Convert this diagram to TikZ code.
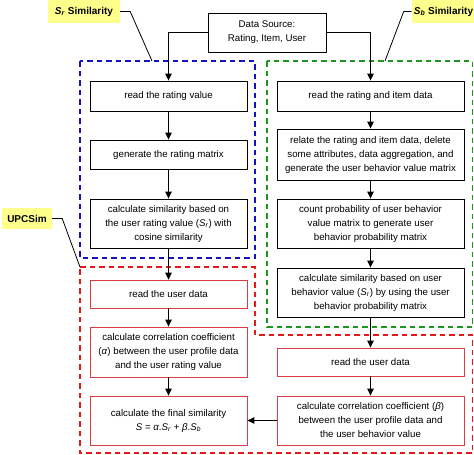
\documentclass[tikz,border=0pt]{standalone}
\usepackage{fontspec}
\setmainfont{Liberation Sans}
\usepackage{tikz}
\usetikzlibrary{positioning}
\usetikzlibrary{arrows.meta}

\definecolor{grpblue}{RGB}{20,20,190}
\definecolor{grpgreen}{RGB}{30,150,30}
\definecolor{grpred}{RGB}{230,25,25}
\definecolor{boxred}{RGB}{220,60,70}
\definecolor{tagyellow}{RGB}{255,255,140}

\newcommand{\Sr}{\textit{S}\textsubscript{\textit{r}}}
\newcommand{\Sb}{\textit{S}\textsubscript{\textit{b}}}

\begin{document}
\begin{tikzpicture}[
    x=1pt,y=-1pt,
    proc/.style={draw,line width=0.9pt,align=center,inner sep=2pt,
      font=\fontsize{9.7}{14}\selectfont},
    lproc/.style={proc,minimum width=157pt},
    rproc/.style={proc,minimum width=187pt},
    uproc/.style={draw=boxred,line width=0.8pt},
    tag/.style={fill=tagyellow,inner sep=2pt,font=\fontsize{10}{12}\selectfont\bfseries},
    arr/.style={-{Triangle[length=7pt,width=6.5pt]},line width=0.9pt},
    grp/.style={dash pattern=on 5.5pt off 4pt,line width=1.8pt},
    callout/.style={line width=0.8pt}
    ]

    \useasboundingbox (0,0) rectangle (474,455);

    % groups
    \draw[grp,grpblue] (80,61) rectangle (255,258);
    \draw[grp,grpgreen] (267,61) rectangle (472.5,327);
    \draw[grp,grpred] (80,267) -- (255,267) -- (255,335) -- (472.5,335)
      -- (472.5,453) -- (80,453) -- cycle;

    \node[proc,minimum width=118pt,minimum height=39pt] (src) at (267,32.5)
      {Data Source:\\Rating, Item, User};

    % S_r column
    \node[lproc,minimum height=30pt] (r1) at (168.5,96) {read the rating value};
    \node[lproc,minimum height=29pt] (r2) at (168.5,154.5) {generate the rating matrix};
    \node[lproc,minimum height=49pt] (r3) at (168.5,223.5)
      {calculate similarity based on\\the user rating value (\Sr) with\\cosine similarity};

    % S_b column
    \node[rproc,minimum height=51pt] (b2) at (370.5,154.5)
      {relate the rating and item data, delete\\some attributes, data aggregation, and\\generate the user behavior value matrix};
    \node[rproc,minimum height=30pt] (b1) at (370.5,96) {read the rating and item data};
    \node[rproc,minimum height=49pt] (b3) at (370.5,223.5)
      {count probability of user behavior\\value matrix to generate user\\behavior probability matrix};
    \node[rproc,minimum height=49pt] (b4) at (370.5,292.5)
      {calculate similarity based on user\\behavior value (\Sr) by using the user\\behavior probability matrix};

    % UPCSim
    \node[lproc,uproc,minimum height=28pt] (u1) at (168.5,294) {read the user data};
    \node[lproc,uproc,minimum height=50pt] (u2) at (168.5,352)
      {calculate correlation coefficient\\(\textit{α}) between the user profile data\\and the user rating value};
    \node[lproc,uproc,minimum height=49pt] (u3) at (168.5,420.5)
      {calculate the final similarity\\\textit{S} = \textit{α}.\Sr{} + \textit{β}.\Sb};
    \node[rproc,uproc,minimum height=28pt] (v1) at (370.5,362) {read the user data};
    \node[rproc,uproc,minimum height=49pt] (v2) at (370.5,420.5)
      {calculate correlation coefficient (\textit{β})\\between the user profile data and\\the user behavior value};

    % tags
    \node[tag,minimum width=72pt,minimum height=23pt] (srtag) at (84,11.5) {\Sr{} Similarity};
    \node[tag,minimum width=61pt,minimum height=23pt] (sbtag) at (443.5,11.5) {\Sb{} Similarity};
    \node[tag,minimum width=50pt,minimum height=21pt] (upctag) at (27,218.5) {UPCSim};

    \coordinate (srend) at (152,61);
    \coordinate (sbend) at (385,61);
    \coordinate (upcend) at (80,267);

    \draw[callout] (srtag.east) -- ++(10,0) -- (srend);
    \draw[callout] (sbtag.west) -- ++(-8,0) -- (sbend);
    \draw[callout] (upctag.east) -- ++(10,0) -- (upcend);

    \draw[arr] (src.west) -| (r1.north);
    \draw[arr] (src.east) -| (b1.north);
    \draw[arr] (r1) -- (r2);
    \draw[arr] (r2) -- (r3);
    \draw[arr] (r3) -- (u1);
    \draw[arr] (u1) -- (u2);
    \draw[arr] (u2) -- (u3);
    \draw[arr] (b1) -- (b2);
    \draw[arr] (b2) -- (b3);
    \draw[arr] (b3) -- (b4);
    \draw[arr] (b4) -- (v1);
    \draw[arr] (v1) -- (v2);
    \draw[arr] (v2) -- (u3);
  \end{tikzpicture}
\end{document}
